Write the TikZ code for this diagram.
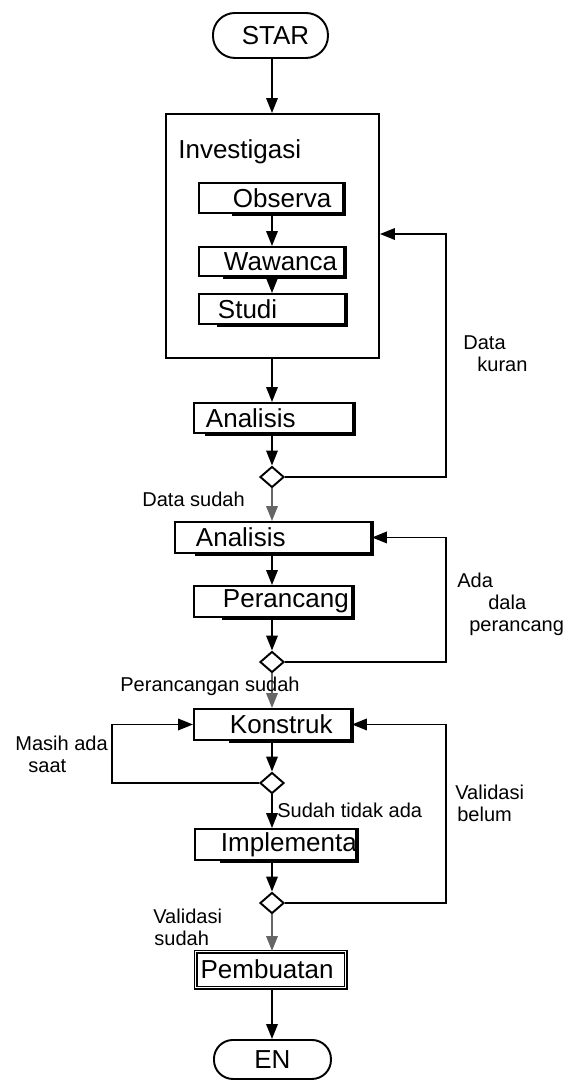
\documentclass[tikz,border=0pt]{standalone}
\usepackage{fontspec}
\setmainfont{Liberation Sans}
\usetikzlibrary{shapes.geometric,arrows.meta}

\newlength\px
\setlength\px{0.02cm}
\newcommand\boxfont{\fontsize{14.8}{17}\selectfont}
\newcommand\lblfont{\fontsize{11.4}{12.5}\selectfont}

\tikzset{
	flow/.style={line width=1.1pt,-{Triangle[length=0.3cm,width=0.23cm]}},
	proc/.style={draw,line width=1.1pt,anchor=north west,inner sep=0pt,align=left,font=\boxfont},
	term/.style={draw,line width=1.1pt,anchor=north west,inner sep=0pt,font=\boxfont},
	decision/.style={draw,diamond,line width=1.1pt,inner sep=0pt,minimum width=24\px,minimum height=21\px},
	lbl/.style={inner sep=0pt,align=left,font=\lblfont},
	shadeline/.style={line width=1.8pt}
}

\begin{document}
\begin{tikzpicture}[x=0.02cm,y=-0.02cm]
		\useasboundingbox (0,0) rectangle (571,1080);
		% coordinates
		\coordinate (col) at (272,0);   % main column
		\coordinate (rail) at (446,0);  % right return line
		\coordinate (lrail) at (112,0); % left return line
		\coordinate (r1) at (446,234);
		% start and end
		\node[term,rounded corners=22\px,minimum width=115\px,minimum height=45\px] (star) at (212,12) {\hspace*{10\px}STAR};
		\node[term,rounded corners=19\px,minimum width=117\px,minimum height=39\px] (en) at (213,1039) {EN};
		% investigasi block
		\node[draw,line width=1.1pt,anchor=north west,minimum width=213\px,minimum height=244\px] (inv) at (165,113) {};
		\node[anchor=base west,inner sep=0pt,font=\boxfont] (invtitle) at (178,158) {Investigasi};
		\node[proc,minimum width=144\px,minimum height=30\px,text width=144\px] (obs) at (198,182) {\hspace*{34\px}\mbox{Observa}};
		\node[proc,minimum width=145\px,minimum height=29\px,text width=145\px] (waw) at (198,246) {\hspace*{25\px}\mbox{Wawanca}};
		\node[proc,minimum width=146\px,minimum height=30\px,text width=146\px] (stu) at (198,293) {\hspace*{19\px}\mbox{Studi}};
		% process boxes
		\node[proc,minimum width=159\px,minimum height=30\px,text width=159\px] (ana1) at (193,402) {\hspace*{12\px}\mbox{Analisis}};
		\node[proc,minimum width=196\px,minimum height=31\px,text width=196\px] (ana2) at (174,521) {\hspace*{21\px}\mbox{Analisis}};
		\node[proc,minimum width=158\px,minimum height=31\px,text width=158\px] (per) at (193,585) {\hspace*{29\px}\mbox{Perancang}};
		\node[proc,minimum width=157\px,minimum height=31\px,text width=157\px] (kon) at (193,708) {\hspace*{36\px}\mbox{Konstruk}};
		\node[proc,minimum width=161\px,minimum height=31\px,text width=161\px] (imp) at (194,828) {\hspace*{26\px}\mbox{Implementa}\hss};
		\node[proc,line width=0.7pt,double,double distance=0.8pt,minimum width=150\px,minimum height=36\px,text width=150\px] (pem) at (195,951) {\hspace*{5\px}\mbox{Pembuatan}};
		% shadow edges
		\foreach \n/\p in {obs/34,waw/25,stu/19,ana1/12,ana2/21,per/29,kon/36,imp/26}
		\draw[shadeline] ([xshift=\p\px]\n.south west) -- (\n.south east) -- (\n.north east);
		% decisions
		\node[decision] (d1) at (272,477) {};
		\node[decision] (d2) at (272,662) {};
		\node[decision] (d3) at (272,783) {};
		\node[decision] (d4) at (272,903) {};
		% straight arrows
		\foreach \a/\b/\c in {star/inv/black,obs/waw/black,waw/stu/black,inv/ana1/black,ana1/d1/black,d1/ana2/black!60,ana2/per/black,per/d2/black,d2/kon/black!60,kon/d3/black,d3/imp/black,imp/d4/black,d4/pem/black!60,pem/en/black}
		\draw[flow,color=\c] (col |- \a.south) -- (col |- \b.north);
		% return arrows
		\draw[flow] (d1.east) -| (r1) -- (r1 -| inv.east);
		\draw[flow] (d2.east) -| (rail |- ana2.east) -- (ana2.east);
		\draw[flow] (d4.east) -| (rail |- kon.east) -- (kon.east);
		\draw[flow] (d3.west) -| (lrail |- kon.west) -- (kon.west);
		% add labels
		\node[lbl,anchor=north west] (lkuran) at (463,335) {Data\\\hspace*{14\px}kuran};
		\node[lbl,anchor=base west] (lsudah1) at (142,506) {Data sudah};
		\node[lbl,anchor=north west] (lada) at (457,573) {Ada\\\hspace*{31\px}dala\\\hspace*{12\px}perancang};
		\node[lbl,anchor=base west] (lsudah2) at (120,691) {Perancangan sudah};
		\node[lbl,anchor=north west] (lmasih) at (15,736) {Masih ada\\\hspace*{13\px}saat};
		\node[lbl,anchor=base west] (ltidak) at (277,817) {Sudah tidak ada};
		\node[lbl,anchor=north west] (lbelum) at (455,785) {Validasi\\\hspace*{2\px}belum};
		\node[lbl,anchor=north west] (lvalid) at (153,909) {Validasi\\\hspace*{1\px}sudah};
	\end{tikzpicture}
\end{document}
